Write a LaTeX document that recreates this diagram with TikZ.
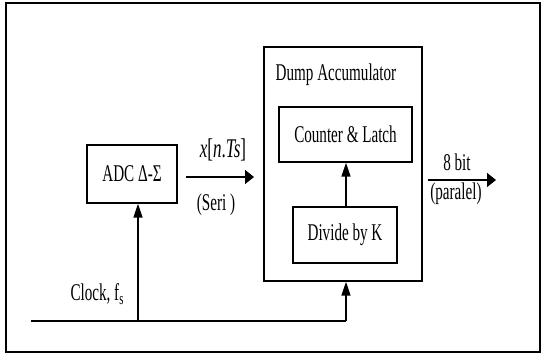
\documentclass[tikz,border=0pt]{standalone}
\usepackage{fontspec}
\setmainfont{Liberation Serif}[FakeStretch=0.63]
\usetikzlibrary{arrows.meta, positioning}

\begin{document}
\begin{tikzpicture}[x=1pt, y=1pt,
  blockbox/.style={draw, line width=1.4pt, inner sep=0pt},
  hsig/.style={line width=1.4pt, -{Triangle[length=9pt, width=14pt]}},
  vsig/.style={line width=1.4pt, -{Triangle[length=14pt, width=9pt]}},
  wire/.style={line width=1.4pt},
  lbl/.style={inner sep=0pt, font=\fontsize{24}{27}\selectfont}]
  \useasboundingbox (0,0) rectangle (542,354);
  % Frame
  \draw[line width=1.2pt] (6,2) rectangle (540,351);
  % Blocks
  \node[blockbox, minimum width=90pt, minimum height=58pt] (adc) at (132,180) {};
  \node[lbl] at (adc.center) {ADC Δ-Σ};
  \node[blockbox, minimum width=158pt, minimum height=234pt] (dump) at (343,190) {};
  \node[lbl] (dumplbl) at (336,279) {Dump Accumulator};
  \node[blockbox, minimum width=133pt, minimum height=55pt] (latch) at (345.5,219.5) {};
  \node[lbl] at (latch.center) {Counter \& Latch};
  \node[blockbox, minimum width=104pt, minimum height=56pt] (divk) at (345,119) {};
  \node[lbl] at (divk.center) {Divide by K};
  % Serial data
  \coordinate (serin) at (186,177);
  \coordinate (serout) at (254,177);
  \draw[hsig] (serin) -- (serout);
  \node[lbl, font=\fontsize{27}{30}\selectfont] (xlbl) at (223,204) {\textit{x}[\textit{n}.\textit{Ts}]};
  \node[lbl] (serilbl) at (216,149) {(Seri )};
  % Divider to latch
  \draw[vsig] (divk.north -| 346,0) -- (latch.south -| 346,0);
  % Parallel output
  \coordinate (parin) at (428,174);
  \coordinate (parout) at (496,174);
  \draw[hsig] (parin) -- (parout);
  \node[lbl] (bitlbl) at (457,192) {8 bit};
  \node[lbl] (parlbl) at (456,160) {(paralel)};
  % Clock
  \coordinate (clkin) at (31,33);
  \coordinate (clkadc) at (138,33);
  \coordinate (clkdump) at (346,33);
  \draw[wire] (clkin) -- (clkdump);
  \draw[vsig] (clkadc) -- (adc.south -| clkadc);
  \draw[vsig] (clkdump) -- (dump.south -| clkdump);
  \node[lbl] (clklbl) at (97,60) {Clock, f\raisebox{-4pt}{\fontsize{17}{17}\selectfont s}};
\end{tikzpicture}
\end{document}
